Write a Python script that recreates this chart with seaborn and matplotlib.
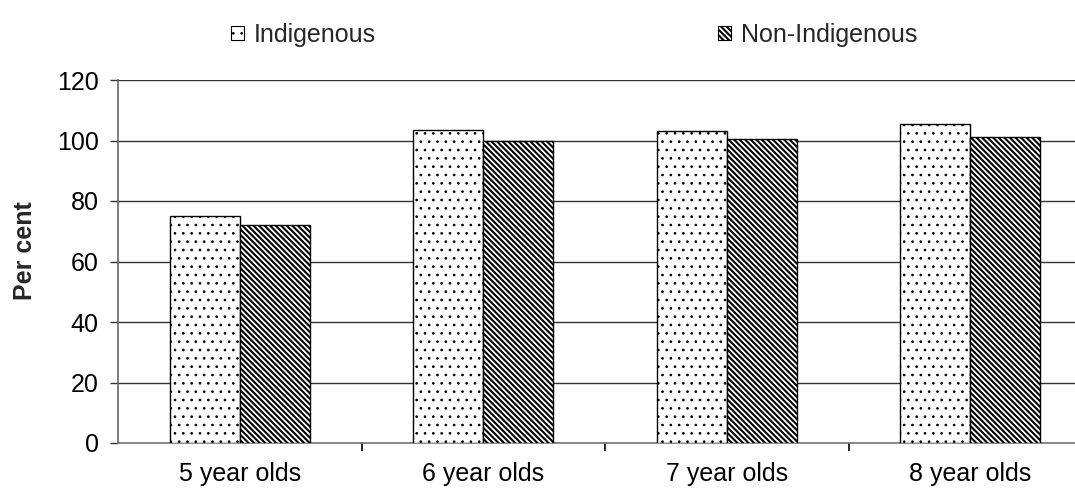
import matplotlib
matplotlib.use("Agg")
import matplotlib.pyplot as plt
import seaborn as sns
import pandas as pd
from matplotlib.ticker import FixedLocator
from matplotlib.patches import Patch

# Attendance rates by age group
age_groups = ["5 year olds", "6 year olds", "7 year olds", "8 year olds"]
indigenous = [75.0, 103.4, 103.3, 105.5]
non_indigenous = [72.2, 100.0, 100.6, 101.3]
series_names = ["Indigenous", "Non-Indigenous"]
y_ticks = [0, 20, 40, 60, 80, 100, 120]

df = pd.DataFrame({
    "age": age_groups * 2,
    "value": indigenous + non_indigenous,
    "group": [series_names[0]] * len(age_groups) + [series_names[1]] * len(age_groups),
})

sns.set_theme(style="white")
plt.rcParams["font.family"] = ["Liberation Sans", "DejaVu Sans"]
plt.rcParams["hatch.linewidth"] = 1.5
plt.rcParams["hatch.color"] = "black"

FS = 18
W, H = 1075, 491
fig = plt.figure(figsize=(W / 100, H / 100), dpi=100)
# axes extends slightly past the right edge of the canvas
left, right, top, bottom = 118, 1092, 80, 443
ax = fig.add_axes([left / W, 1 - bottom / H, (right - left) / W, (bottom - top) / H])

sns.barplot(data=df, x="age", y="value", hue="group", order=age_groups,
            hue_order=series_names, palette=["white", "white"],
            width=0.575, gap=0, edgecolor="black", linewidth=1.0,
            errorbar=None, ax=ax, legend=False, zorder=3)

hatches = {series_names[0]: "..", series_names[1]: "\\\\\\\\\\\\"}
hatch_lw = {series_names[0]: 0.7, series_names[1]: 1.5}


def style_patch(p, name):
    p.set_hatch(hatches[name])
    p.set_edgecolor("black")
    if hasattr(p, "set_hatch_linewidth"):
        p.set_hatch_linewidth(hatch_lw[name])
    else:
        p._hatch_linewidth = hatch_lw[name]


for container, name in zip(ax.containers, series_names):
    for bar in container:
        style_patch(bar, name)

ax.set_ylim(0, 120)
ax.set_xlim(-0.5, len(age_groups) - 0.5)
ax.yaxis.set_major_locator(FixedLocator(y_ticks))
ax.grid(axis="y", color="#333333", linewidth=1.0, zorder=0)
ax.set_axisbelow(True)

for s in ["top", "right"]:
    ax.spines[s].set_visible(False)
ax.spines["left"].set_color("#666666")
ax.spines["bottom"].set_color("#777777")
ax.spines["left"].set_linewidth(1.2)
ax.spines["bottom"].set_linewidth(1.2)

ax.tick_params(axis="y", which="major", length=6, width=1, color="#333333",
               direction="out", left=True, pad=8, labelsize=FS, labelcolor="black")
ax.tick_params(axis="x", which="major", length=0, pad=14, labelsize=FS,
               labelcolor="black")
ax.xaxis.set_minor_locator(FixedLocator([0.5, 1.5, 2.5]))
ax.tick_params(axis="x", which="minor", length=6, width=1.2, color="black",
               direction="out", bottom=True)

ax.set_xlabel("")
ax.set_ylabel("Per cent", fontsize=FS, fontweight="bold", labelpad=14)
ax.yaxis.set_label_coords(-0.083, 0.53)

handles = []
for n in series_names:
    h = Patch(facecolor="white", edgecolor="black", hatch=hatches[n], linewidth=0.8)
    handles.append(h)
leg = fig.legend(handles, series_names, ncol=2, loc="center left",
                 bbox_to_anchor=(208 / W, 1 - 35 / H), frameon=False, fontsize=FS,
                 handlelength=0.52, handleheight=0.52, handletextpad=0.4,
                 columnspacing=13.7)
for h, n in zip(leg.get_patches(), series_names):
    style_patch(h, n)

fig.savefig("out.png", dpi=100)
